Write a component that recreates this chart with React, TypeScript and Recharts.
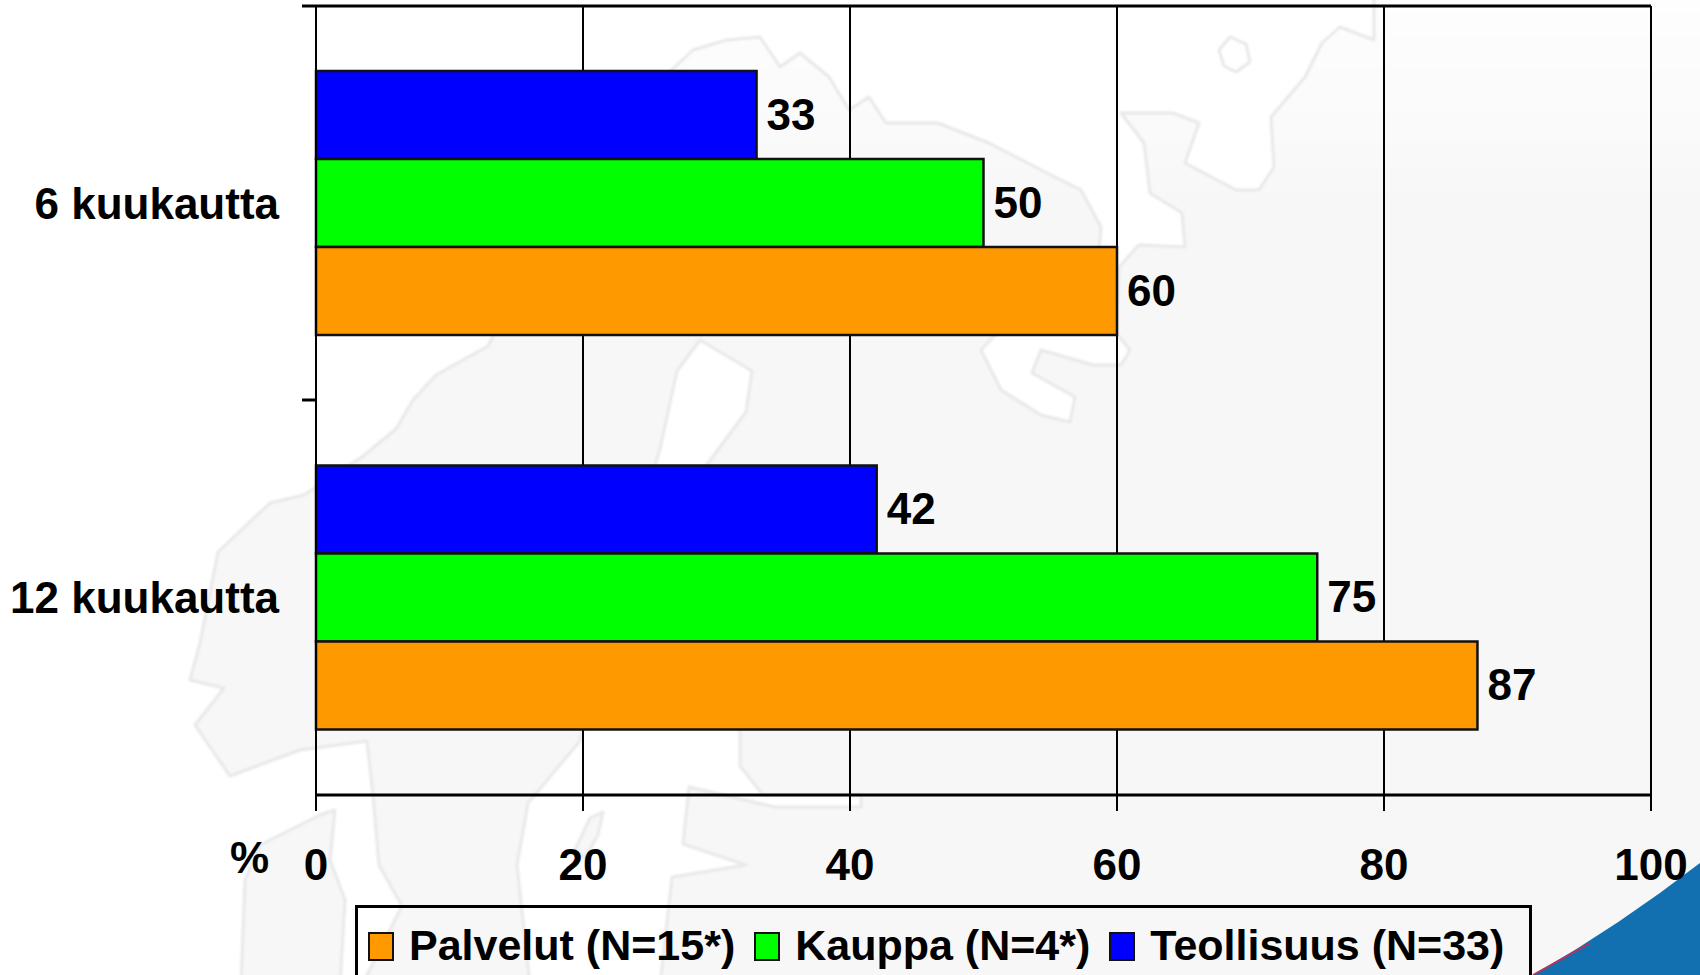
import { BarChart, Bar, XAxis, YAxis, CartesianGrid, LabelList, Label, Legend } from "recharts"

const periods = ["6 kuukautta", "12 kuukautta"]
const teollisuus = [33, 42]
const kauppa = [50, 75]
const palvelut = [60, 87]
const xTicks = [0, 20, 40, 60, 80, 100]
const edgeTicks = [0, 2]

const chartData = periods.map((period, i) => ({
  period,
  teollisuus: teollisuus[i],
  kauppa: kauppa[i],
  palvelut: palvelut[i]
}))

const FONT = "'Liberation Sans', Arial, sans-serif"
const LAND = "#f7f7f7"
const COAST = "#e8e8e8"

// faint map behind the chart, only decoration
const mainland =
  "M230,776 L195,725 L224,688 L190,680 L200,643 L218,552 L270,503 L304,495 L362,457 L396,429 L413,400 L436,375 L488,346 " +
  "L560,200 L650,90 L693,50 L727,40 L760,37 L780,67 L800,53 L829,77 L849,110 L869,97 L886,123 L938,123 L989,143 L1047,173 " +
  "L1081,190 L1101,227 L1095,300 L1000,330 L981,350 L1001,390 L1041,415 L1070,422 L1075,397 L1032,373 L1041,350 L1093,365 " +
  "L1121,365 L1130,350 L1116,333 L1119,267 L1139,245 L1185,247 L1182,213 L1150,193 L1144,143 L1121,113 L1173,113 L1199,123 " +
  "L1185,163 L1236,190 L1259,190 L1274,167 L1271,117 L1305,77 L1322,43 L1340,27 L1374,40 L1374,-10 L1710,-10 L1710,985 " +
  "L367,985 L367,975 L402,906 L379,865 L373,795 L367,741 L300,750 Z"
const baltic =
  "M700,340 L752,371 L746,412 L706,466 L740,733 L740,766 L763,795 L861,795 L861,807 L775,807 L689,787 L683,844 L746,865 " +
  "L672,877 L660,985 L530,985 L517,865 L528,803 L580,741 L600,640 L660,449 L677,371 Z"
const denmark = "M241,985 L245,880 L260,845 L320,815 L335,810 L330,860 L345,900 L340,985 Z"
const gotland = "M575,850 L590,818 L603,812 L598,835 L585,858 Z"
const kolguev = "M1219,50 L1230,37 L1246,44 L1250,62 L1236,72 L1224,66 Z"

function Backdrop() {
  return (
    <svg width={1700} height={975} style={{ position: "absolute", left: 0, top: 0 }}>
      <defs>
        <linearGradient id="landFade" gradientUnits="userSpaceOnUse" x1="0" y1="0" x2="0" y2="220">
          <stop offset="0" stopColor="#fefefe" />
          <stop offset="1" stopColor={LAND} />
        </linearGradient>
        <filter id="soft">
          <feGaussianBlur stdDeviation="1.2" />
        </filter>
      </defs>
      <g filter="url(#soft)" stroke={COAST} strokeWidth={3} strokeLinejoin="round">
        <path d={mainland} fill="url(#landFade)" />
        <path d={baltic} fill="#fff" />
        <path d={denmark} fill={LAND} />
        <path d={gotland} fill={LAND} />
        <path d={kolguev} fill="#fff" />
      </g>
      <path d="M1533,975 Q1620,925 1700,863 L1700,975 Z" fill="#126fb0" />
      <path d="M1533,975 L1590,943" stroke="#b8325a" strokeWidth={2} fill="none" />
      {/* middle tick between the two categories, no axis gave me this one */}
      <line x1={302} x2={316} y1={400} y2={400} stroke="#000" strokeWidth={3} />
    </svg>
  )
}

function LegendBox({ payload }: any) {
  const items = [...(payload ?? [])].reverse()
  return (
    <div
      style={{
        boxSizing: "border-box",
        display: "flex",
        height: 90,
        border: "3px solid #000",
        paddingLeft: 10,
        paddingTop: 15,
        fontFamily: FONT,
        fontWeight: 700,
        fontSize: 43,
        lineHeight: "44px",
        color: "#000",
        whiteSpace: "nowrap"
      }}
    >
      {items.map((entry: any) => (
        <div key={entry.value} style={{ display: "flex", marginRight: 19 }}>
          <span
            style={{
              boxSizing: "border-box",
              width: 26,
              height: 29,
              marginTop: 9,
              marginRight: 15,
              background: entry.color,
              border: "2px solid #111"
            }}
          />
          <span>{entry.value}</span>
        </div>
      ))}
    </div>
  )
}

const NoText = () => <g />

export default function App() {
  const labelStyle = { fontFamily: FONT, fontWeight: 700, fontSize: 44, fill: "#000" }
  return (
    <div style={{ position: "absolute", left: 0, top: 0, width: 1700, height: 975, overflow: "hidden", background: "#fff" }}>
      <Backdrop />
      <BarChart
        width={1700}
        height={975}
        data={chartData}
        layout="vertical"
        margin={{ top: 5, right: 49, bottom: 0, left: 0 }}
        barCategoryGap={65}
        barGap={0}
        style={{ position: "absolute", left: 0, top: 0 }}
      >
        <CartesianGrid yAxisId="periods" horizontal={false} stroke="#000" strokeWidth={2} />
        <XAxis
          type="number"
          domain={[0, 100]}
          ticks={xTicks}
          interval={0}
          height={180}
          tickSize={16}
          tickMargin={38}
          axisLine={{ stroke: "#000", strokeWidth: 3 }}
          tickLine={{ stroke: "#000", strokeWidth: 2 }}
          tick={labelStyle}
        >
          <Label value="%" position="left" offset={47} dy={-28} style={labelStyle} />
        </XAxis>
        {/* top rule of the frame */}
        <XAxis
          xAxisId="top"
          orientation="top"
          type="number"
          domain={[0, 100]}
          height={1}
          tick={false}
          tickLine={false}
          axisLine={{ stroke: "#000", strokeWidth: 3 }}
        />
        {/* tick marks at the frame ends, the category axis can't do that */}
        <YAxis
          yAxisId="edges"
          type="number"
          scale="linear"
          domain={[0, 2]}
          allowDataOverflow
          ticks={edgeTicks}
          interval={0}
          width={1}
          tick={NoText}
          tickSize={14}
          axisLine={{ stroke: "#000", strokeWidth: 2 }}
          tickLine={{ stroke: "#000", strokeWidth: 3 }}
        />
        <YAxis
          yAxisId="periods"
          type="category"
          dataKey="period"
          width={315}
          tickLine={false}
          tickMargin={30}
          axisLine={false}
          tick={labelStyle}
        />
        <Legend
          layout="horizontal"
          verticalAlign="middle"
          align="center"
          itemSorter={null}
          wrapperStyle={{ left: 355, top: 905, width: 1177, height: 90 }}
          content={<LegendBox />}
        />
        <Bar yAxisId="periods" dataKey="teollisuus" name="Teollisuus (N=33)" fill="#0000ff" stroke="#111" strokeWidth={2.5} isAnimationActive={false}>
          <LabelList dataKey="teollisuus" position="right" offset={10} dy={-1} style={labelStyle} />
        </Bar>
        <Bar yAxisId="periods" dataKey="kauppa" name="Kauppa (N=4*)" fill="#00ff00" stroke="#111" strokeWidth={2.5} isAnimationActive={false}>
          <LabelList dataKey="kauppa" position="right" offset={10} dy={-1} style={labelStyle} />
        </Bar>
        <Bar yAxisId="periods" dataKey="palvelut" name="Palvelut (N=15*)" fill="#ff9900" stroke="#111" strokeWidth={2.5} isAnimationActive={false}>
          <LabelList dataKey="palvelut" position="right" offset={10} dy={-1} style={labelStyle} />
        </Bar>
      </BarChart>
    </div>
  )
}
